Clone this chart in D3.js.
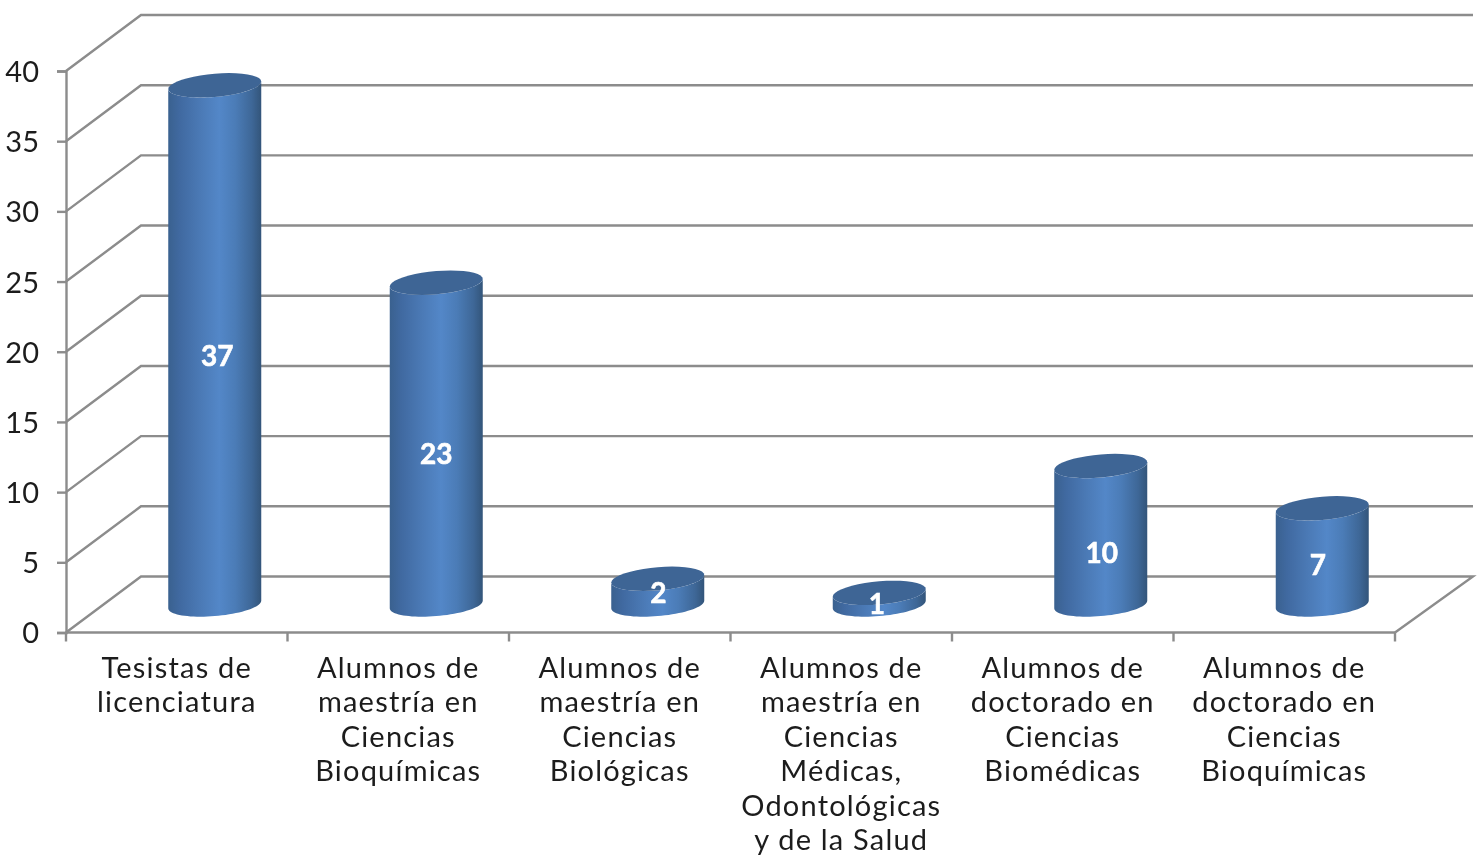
<!DOCTYPE html>
<html><head><meta charset="utf-8">
<script src="https://cdn.jsdelivr.net/npm/d3@7/dist/d3.min.js"></script>
<style>html,body{margin:0;padding:0;background:#fff;overflow:hidden}svg{display:block;filter:blur(0.45px)}
text{font-family:"Lato","Noto Sans",sans-serif}</style></head><body>
<svg id="c" width="1483" height="857"></svg>
<script>
const categories=[
 ["Tesistas de","licenciatura"],
 ["Alumnos de","maestría en","Ciencias","Bioquímicas"],
 ["Alumnos de","maestría en","Ciencias","Biológicas"],
 ["Alumnos de","maestría en","Ciencias","Médicas,","Odontológicas","y de la Salud"],
 ["Alumnos de","doctorado en","Ciencias","Biomédicas"],
 ["Alumnos de","doctorado en","Ciencias","Bioquímicas"]];
const values=[37,23,2,1,10,7];
const yTicks=[0,5,10,15,20,25,30,35,40];
const labelNudgeY=[11,10,1,5,18,9];
const labelNudgeX=[2.5,0,0.5,-2.5,1,-4.5];

const depthX=75, depthY=-56, grid="#8c8c8c", ink="#1c1c1c";
const svg=d3.select("#c");
const ids=categories.map((_,i)=>i);
const x=d3.scaleBand().domain(ids).range([66,1395]).padding(0);
const y=d3.scaleLinear().domain([0,40]).range([632.5,71]);
const yBar=d3.scaleLinear().domain([0,40]).range([607,43]);
const backRight=1473;

const gl=svg.append("g").attr("fill","none").attr("stroke",grid).attr("stroke-width",2.4);
const line=d3.line();
yTicks.forEach(t=>{
  const pts=[[x.range()[0],y(t)],[x.range()[0]+depthX,y(t)+depthY]];
  pts.push([backRight,y(t)+depthY]);
  if(t===0) pts.push([x.range()[1],y(0)]);
  gl.append("path").attr("d",line(pts));
});

const yAxis=svg.append("g").attr("transform",`translate(${x.range()[0]},0)`)
  .call(d3.axisLeft(y).tickValues(yTicks).tickSize(9).tickPadding(17));
yAxis.select(".domain").attr("stroke",grid).attr("stroke-width",2.4);
yAxis.selectAll("line").attr("stroke",grid).attr("stroke-width",2.4);
yAxis.selectAll("text").attr("fill",ink).attr("font-size",29)
  .attr("font-family",'"Lato"').attr("dy","0.36em").attr("dx",-1);

const xAxisG=svg.append("g");
xAxisG.append("line").attr("x1",x.range()[0]).attr("x2",x.range()[1]).attr("y1",y(0)).attr("y2",y(0)).attr("stroke",grid).attr("stroke-width",2.4);
xAxisG.selectAll("line.t").data(ids.concat([ids.length])).join("line").attr("class","t")
  .attr("x1",i=>x.range()[0]+i*x.step()).attr("x2",i=>x.range()[0]+i*x.step())
  .attr("y1",y(0)).attr("y2",y(0)+9).attr("stroke",grid).attr("stroke-width",2.4);

xAxisG.selectAll("text.c").data(categories).join("text").attr("class","c")
  .attr("text-anchor","middle").attr("fill",ink).attr("font-size",29)
  .attr("letter-spacing",1.2)
  .each(function(d,i){
    const t=d3.select(this);
    d.forEach((s,k)=>t.append("tspan").attr("x",x(i)+x.bandwidth()/2).attr("y",678+k*34.4).text(s));
  });

const defs=svg.append("defs");
const g=defs.append("linearGradient").attr("id","cyl").attr("x1",0).attr("x2",1).attr("y1",0).attr("y2",0);
[[0,"#3a618f"],[0.12,"#4069a0"],[0.35,"#4b7ab6"],[0.55,"#5387c8"],[0.72,"#4b7cb7"],[0.9,"#3e6797"],[1,"#33557a"]]
 .forEach(([o,c])=>g.append("stop").attr("offset",o).attr("stop-color",c));

const rx=46.5, shear=3.8, ry=11.6;
const bars=svg.append("g");
const ell=(cx,cy,a0,a1)=>d3.range(0,41).map(i=>{
  const a=a0+(a1-a0)*i/40;
  return [cx+rx*Math.cos(a), cy-shear*Math.cos(a)+ry*Math.sin(a)];
});
values.forEach((v,i)=>{
  const cx=x(i)+x.bandwidth()/2+depthX/2+0.5;
  const base=y(0)+depthY/2;
  const top=yBar(v);
  const body=[...ell(cx,top,Math.PI,0),...ell(cx,base,0,Math.PI)];
  bars.append("path").attr("d",d3.line()(body)+"Z").attr("fill","url(#cyl)");
  bars.append("path").attr("d",d3.line()(ell(cx,top,0,2*Math.PI))+"Z").attr("fill","#3e6595");
  svg.append("text").attr("x",cx+labelNudgeX[i]).attr("y",(top+base)/2+labelNudgeY[i])
    .attr("dy","0.36em").attr("text-anchor","middle").attr("fill","#fff")
    .attr("stroke","#fff").attr("stroke-width",0.6)
    .attr("font-size",28).attr("font-weight",700).text(v);
});
</script></body></html>
